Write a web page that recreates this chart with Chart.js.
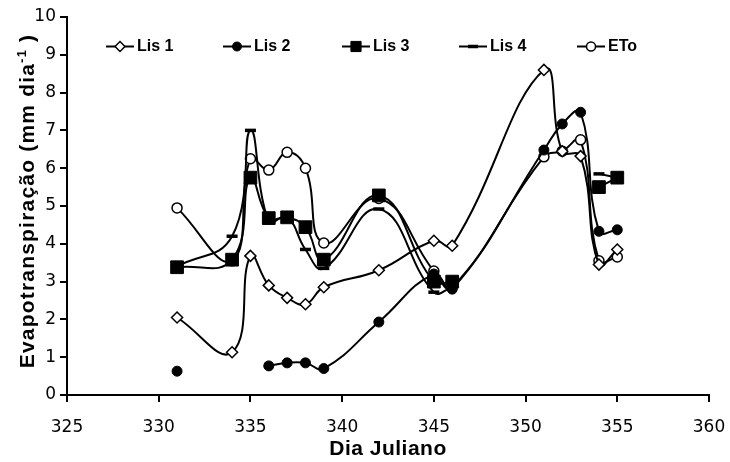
<!DOCTYPE html>
<html>
<head>
<meta charset="utf-8">
<script src="https://cdn.jsdelivr.net/npm/chart.js@4"></script>
<style>
  html, body { margin: 0; padding: 0; background: #fff; }
  #wrap { width: 730px; height: 462px; }
</style>
</head>
<body>
<div id="wrap"><canvas id="chart" width="730" height="462"></canvas></div>
<script>
/* Evapotranspiração por lisímetro vs ETo, dia juliano 331–355 */

const DAYS = [331, 334, 335, 336, 337, 338, 339, 342, 345, 346, 351, 352, 353, 354, 355];

const LIS1 = [2.05, 1.13, 3.68, 2.9, 2.57, 2.4, 2.85, 3.3, 4.08, 3.95, 8.6, 6.45, 6.32, 3.45, 3.85];
const LIS2 = [0.63, null, null, 0.77, 0.85, 0.85, 0.7, 1.93, 3.2, 2.8, 6.48, 7.17, 7.48, 4.33, 4.37];
const LIS3 = [3.38, 3.58, 5.75, 4.68, 4.7, 4.44, 3.58, 5.28, 3.0, 3.0, null, null, null, 5.5, 5.75];
const LIS4 = [3.4, 4.2, 7.0, 4.6, 4.7, 3.85, 3.35, 4.92, 2.72, 2.85, null, null, null, 5.85, 5.75];
const ETO  = [4.95, 3.55, 6.25, 5.95, 6.42, 6.0, 4.02, 5.2, 3.28, 2.85, 6.3, 6.45, 6.75, 3.55, 3.65];

const SERIES_LABELS = ['Lis 1', 'Lis 2', 'Lis 3', 'Lis 4', 'ETo'];
const X_TICKS = [325, 360, 5];   // min, max, step
const Y_TICKS = [0, 10, 1];

const TITLE_FONT = "bold 21px 'Liberation Sans', Arial, sans-serif";

// marker look per series (legend reuses it)
const MARKERS = [
  { pointStyle: 'rectRot', radius: 5.5, fill: '#fff', borderWidth: 1.5 },
  { pointStyle: 'circle',  radius: 5,   fill: '#000', borderWidth: 1 },
  { pointStyle: 'rect',    radius: 9,   fill: '#000', borderWidth: 1 },
  { pointStyle: 'line',    radius: 5.5, fill: '#000', borderWidth: 3.5 },
  { pointStyle: 'circle',  radius: 5,   fill: '#fff', borderWidth: 1.5 },
];

function toPoints(values) {
  return DAYS.map((d, i) => ({ x: d, y: values[i] }));
}

const datasets = [LIS1, LIS2, LIS3, LIS4, ETO].map((vals, i) => ({
  label: SERIES_LABELS[i],
  data: toPoints(vals),
  borderColor: '#000',
  borderWidth: 2,
  tension: 0.45,
  spanGaps: false,
  pointStyle: MARKERS[i].pointStyle,
  pointRadius: MARKERS[i].radius,
  pointBackgroundColor: MARKERS[i].fill,
  pointBorderColor: '#000',
  pointBorderWidth: MARKERS[i].borderWidth,
  pointHoverRadius: MARKERS[i].radius,
}));

// legend sits inside the plot, line-marker-line like the spreadsheet original
const inlineLegend = {
  id: 'inlineLegend',
  afterDraw(chart) {
    const ctx = chart.ctx;
    const y = 46.5;
    const centers = [120, 237, 356, 473, 591];
    ctx.save();
    centers.forEach((cx, i) => {
      const m = MARKERS[i];
      ctx.strokeStyle = '#000';
      ctx.lineWidth = 2;
      ctx.beginPath();
      ctx.moveTo(cx - 14, y);
      ctx.lineTo(cx + 14, y);
      ctx.stroke();
      ctx.fillStyle = m.fill;
      ctx.lineWidth = m.borderWidth;
      Chart.helpers.drawPoint(ctx, {
        pointStyle: m.pointStyle,
        radius: m.pointStyle === 'rect' ? m.radius * 0.8 : m.radius * 0.9,
        rotation: 0,
        borderWidth: m.borderWidth,
      }, cx, y);
      ctx.fillStyle = '#000';
      ctx.font = "bold 16px 'Liberation Sans', Arial, sans-serif";
      ctx.textAlign = 'left';
      ctx.textBaseline = 'middle';
      ctx.fillText(SERIES_LABELS[i], cx + 17, y + 0.5);
    });
    ctx.restore();
  },
};

// axis titles drawn by hand so the y title can carry the superscript
const axisTitles = {
  id: 'axisTitles',
  afterDraw(chart) {
    const ctx = chart.ctx;
    const area = chart.chartArea;
    ctx.save();
    ctx.fillStyle = '#000';
    ctx.letterSpacing = '0.5px';
    ctx.font = TITLE_FONT;
    ctx.textAlign = 'center';
    ctx.textBaseline = 'alphabetic';
    ctx.fillText('Dia Juliano', (area.left + area.right) / 2, 455);

    // y title, rotated, pieces measured to keep it centred
    const main = 'Evapotranspiração (mm dia';
    const sup = '-1';
    const tail = ' )';
    const supFont = "bold 13px 'Liberation Sans', Arial, sans-serif";
    ctx.letterSpacing = '1.2px';
    ctx.font = TITLE_FONT;
    const wMain = ctx.measureText(main).width;
    const wTail = ctx.measureText(tail).width;
    ctx.font = supFont;
    const wSup = ctx.measureText(sup).width;
    const total = wMain + wSup + wTail;

    ctx.translate(34, 201);
    ctx.rotate(-Math.PI / 2);
    ctx.textAlign = 'left';
    let x = -total / 2;
    ctx.font = TITLE_FONT;
    ctx.fillText(main, x, 0);
    x += wMain;
    ctx.font = supFont;
    ctx.fillText(sup, x, -8);
    x += wSup;
    ctx.font = TITLE_FONT;
    ctx.fillText(tail, x, 0);
    ctx.restore();
  },
};

const tickFont = { family: "'DejaVu Sans', sans-serif", size: 17 };

new Chart(document.getElementById('chart'), {
  type: 'line',
  data: { datasets },
  plugins: [inlineLegend, axisTitles],
  options: {
    responsive: false,
    animation: false,
    events: [],
    layout: { padding: { left: 0, right: 21, top: 17, bottom: 0 } },
    plugins: {
      legend: { display: false },
      tooltip: { enabled: false },
    },
    scales: {
      x: {
        type: 'linear',
        min: X_TICKS[0],
        max: X_TICKS[1],
        ticks: { stepSize: X_TICKS[2], color: '#000', font: tickFont, padding: 15, maxRotation: 0 },
        grid: { display: true, drawOnChartArea: false, drawTicks: true, tickLength: 7, color: '#000', lineWidth: 2 },
        border: { display: true, color: '#000', width: 2 },
        afterFit(scale) {
          // fixed box; end labels may overhang into the side margins
          scale.height = 67;
          scale.paddingLeft = 0;
          scale.paddingRight = 0;
        },
      },
      y: {
        min: Y_TICKS[0],
        max: Y_TICKS[1],
        ticks: { stepSize: Y_TICKS[2], color: '#000', font: tickFont, padding: 4 },
        grid: { display: true, drawOnChartArea: false, drawTicks: true, tickLength: 7, color: '#000', lineWidth: 2 },
        border: { display: true, color: '#000', width: 2 },
        afterFit(scale) { scale.width = 67; },
      },
    },
  },
});
</script>
</body>
</html>
